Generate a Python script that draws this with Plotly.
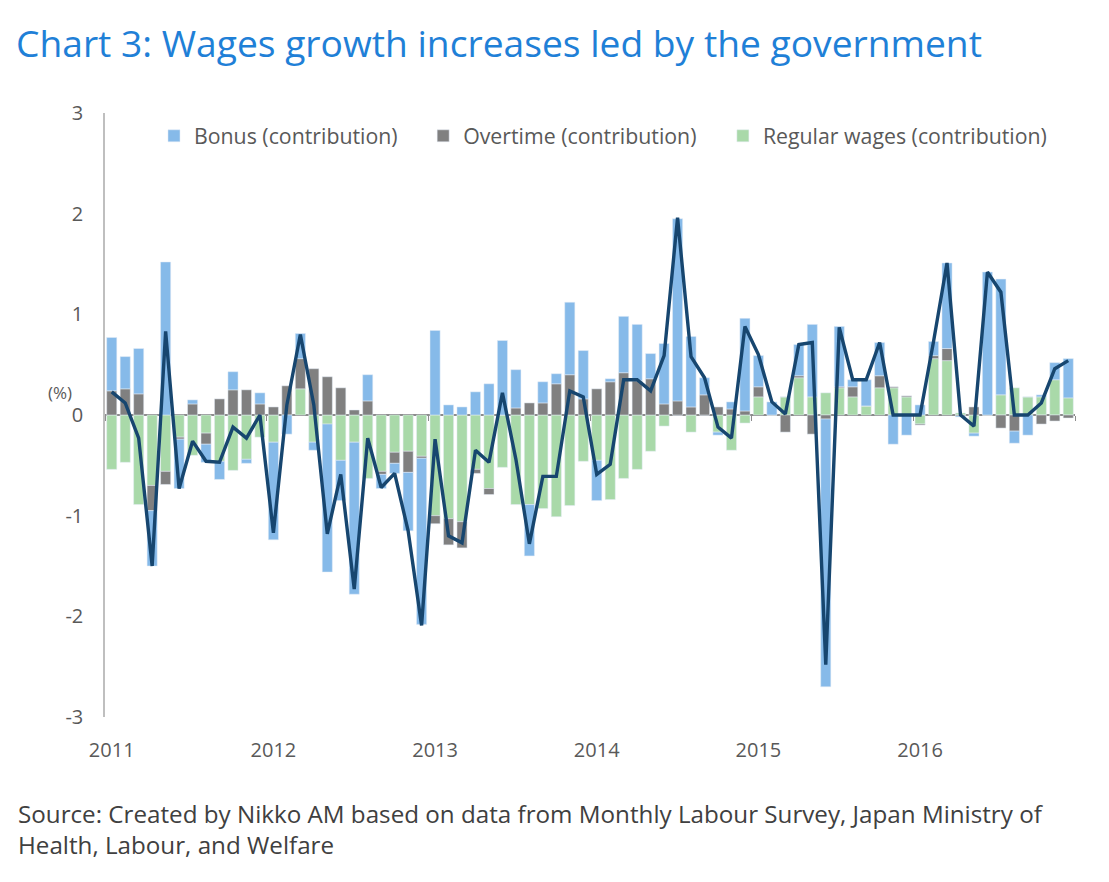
import plotly.graph_objects as go

# monthly, Jan 2011 - Dec 2016
years = ['2011', '2012', '2013', '2014', '2015', '2016']
months = [y + '-' + str(m).zfill(2) for y in years for m in range(1, 13)]

regular = [
    -0.54, -0.47, -0.89, -0.70, -0.56, -0.22, -0.40, -0.18, -0.46, -0.55, -0.44, -0.22,
    -0.27, 0.00, 0.26, -0.27, -0.09, -0.45, -0.27, -0.63, -0.56, -0.37, -0.36, -0.41,
    -1.00, -1.03, -1.06, -0.54, -0.73, -0.52, -0.89, -0.89, -0.93, -1.01, -0.90, -0.46,
    -0.45, -0.84, -0.63, -0.54, -0.36, -0.11, 0.00, -0.17, 0.00, -0.17, -0.35, -0.08,
    0.18, 0.00, 0.18, 0.37, 0.18, 0.22, 0.27, 0.18, 0.09, 0.27, 0.27, 0.18,
    -0.09, 0.56, 0.54, 0.02, -0.18, 0.00, 0.20, 0.27, 0.18, 0.18, 0.35, 0.17]
overtime = [
    0.24, 0.26, 0.21, -0.25, -0.13, -0.02, 0.11, -0.11, 0.16, 0.25, 0.25, 0.11,
    0.08, 0.29, 0.30, 0.46, 0.38, 0.27, 0.05, 0.14, -0.03, -0.11, -0.21, -0.02,
    -0.08, -0.26, -0.26, -0.04, -0.06, 0.00, 0.07, 0.12, 0.12, 0.31, 0.40, 0.16,
    0.26, 0.33, 0.42, 0.34, 0.36, 0.11, 0.14, 0.08, 0.20, 0.08, 0.06, 0.04,
    0.10, 0.00, -0.17, 0.02, -0.19, -0.04, 0.01, 0.10, 0.00, 0.12, 0.01, 0.01,
    -0.01, 0.03, 0.12, -0.01, 0.08, 0.00, -0.13, -0.16, 0.00, -0.09, -0.06, -0.03]
bonus = [
    0.53, 0.32, 0.45, -0.55, 1.52, -0.49, 0.04, -0.18, -0.18, 0.18, -0.04, 0.11,
    -0.97, -0.19, 0.25, -0.08, -1.47, -0.40, -1.51, 0.26, -0.14, -0.10, -0.58, -1.65,
    0.84, 0.10, 0.08, 0.23, 0.31, 0.74, 0.38, -0.51, 0.21, 0.10, 0.72, 0.48,
    -0.40, 0.03, 0.56, 0.56, 0.25, 0.60, 1.81, 0.70, 0.17, -0.03, 0.07, 0.92,
    0.31, 0.13, 0.00, 0.31, 0.72, -2.66, 0.60, 0.07, 0.26, 0.33, -0.29, -0.20,
    0.10, 0.14, 0.85, -0.01, -0.03, 1.42, 1.15, -0.12, -0.20, 0.02, 0.17, 0.39]
total = [
    0.23, 0.12, -0.23, -1.50, 0.83, -0.73, -0.26, -0.46, -0.47, -0.12, -0.23, 0.00,
    -1.17, 0.10, 0.80, 0.10, -1.18, -0.59, -1.73, -0.23, -0.72, -0.58, -1.15, -2.09,
    -0.24, -1.20, -1.27, -0.35, -0.47, 0.22, -0.44, -1.28, -0.61, -0.61, 0.24, 0.18,
    -0.59, -0.49, 0.35, 0.35, 0.24, 0.59, 1.96, 0.58, 0.37, -0.12, -0.23, 0.88,
    0.60, 0.13, 0.01, 0.70, 0.72, -2.48, 0.87, 0.35, 0.35, 0.72, 0.00, 0.00,
    0.00, 0.73, 1.51, 0.00, -0.11, 1.42, 1.22, 0.00, 0.00, 0.12, 0.46, 0.54]
y_ticks = [-3, -2, -1, 0, 1, 2, 3]
y_ticktext = ['-3', '-2', '-1', '0', '1', '2', '3']

x = list(range(len(months)))
font = 'Open Sans'
grey_txt = '#595959'

fig = go.Figure()
fig.add_trace(go.Bar(name='Regular wages (contribution)', x=x, y=regular, marker_color='#a9d9a9',
                     hovertext=months, legend='legend3'))
fig.add_trace(go.Bar(name='Overtime (contribution)', x=x, y=overtime, marker_color='#808080',
                     hovertext=months, legend='legend2'))
fig.add_trace(go.Bar(name='Bonus (contribution)', x=x, y=bonus, marker_color='#86bae9',
                     hovertext=months, legend='legend'))
fig.add_trace(go.Scatter(name='Total', x=x, y=total, mode='lines', line=dict(color='#17466f', width=3.4),
                         showlegend=False, hovertext=months))
# empty trace so the zero-line axis gets drawn
fig.add_trace(go.Scatter(x=[], y=[], xaxis='x2', showlegend=False))

leg = dict(orientation='h', xanchor='left', y=0.962, yanchor='middle',
           font=dict(size=21.3, color=grey_txt), bgcolor='rgba(0,0,0,0)')

# page body adds an 8px offset, so the figure is 8px smaller than the window
fig.update_layout(
    width=1101, height=874,
    margin=dict(l=97, r=34, t=105, b=165),
    plot_bgcolor='white', paper_bgcolor='white',
    barmode='relative', bargap=0.25,
    font=dict(family=font, color=grey_txt, size=20),
    title=dict(text='Chart 3: Wages growth increases led by the government', x=8 / 1101, xanchor='left',
               y=1 - 36 / 874, yanchor='middle', font=dict(family=font, size=37.2, color='#1f80d7')),
    legend=dict(leg, x=0.0505),
    legend2=dict(leg, x=0.328),
    legend3=dict(leg, x=0.637),
    xaxis=dict(range=[-0.5, 71.5], tickvals=[0, 12, 24, 36, 48, 60], ticktext=years, showline=False,
               showgrid=False, zeroline=False, ticks='', ticklabelstandoff=19, tickfont=dict(size=20)),
    xaxis2=dict(overlaying='x', matches='x', anchor='free', position=0.5, showline=True, linecolor='#8c8c8c',
                linewidth=1.5, ticks='outside', ticklen=5, tickcolor='#8c8c8c',
                tickvals=[-0.5, 11.5, 23.5, 35.5, 47.5, 59.5, 71.5],
                showticklabels=False, showgrid=False, zeroline=False, layer='below traces'),
    yaxis=dict(range=[-3, 3], tickvals=y_ticks, ticktext=y_ticktext, showline=True, linecolor='#bfbfbf',
               linewidth=1.5, showgrid=False, zeroline=False, ticks='', ticklabelstandoff=16,
               tickfont=dict(size=20)),
)

fig.add_annotation(text='(%)', xref='paper', yref='paper', x=-0.0608, y=0.538, showarrow=False,
                   font=dict(size=17, color=grey_txt))
fig.add_annotation(text='Source: Created by Nikko AM based on data from Monthly Labour Survey, Japan Ministry of<br>'
                        'Health, Labour, and Welfare',
                   xref='paper', yref='paper', x=-0.0917, y=-0.129, xanchor='left', yanchor='top', align='left',
                   showarrow=False, font=dict(size=24.2, color='#404040'))

fig.write_html('out.html')
